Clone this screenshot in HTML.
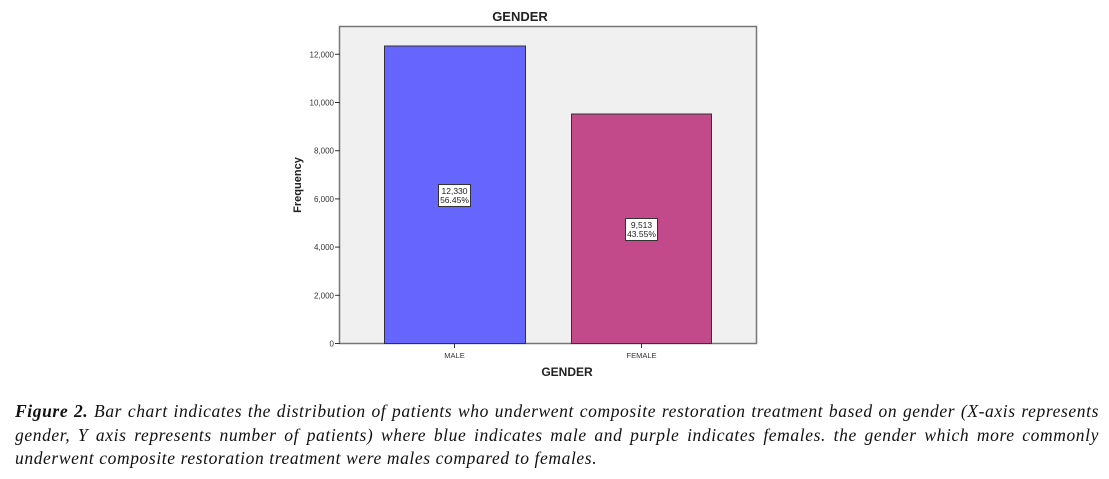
<!DOCTYPE html>
<html><head><meta charset="utf-8"><style>
html,body{margin:0;padding:0;background:#fff;width:1109px;height:479px;overflow:hidden;}
svg{position:absolute;left:0;top:0;}
.cap{position:absolute;left:15px;top:400px;width:1084px;font-family:"Liberation Serif",serif;font-style:italic;font-size:17.5px;letter-spacing:0.6px;line-height:23.5px;color:#111;}
.l{display:block;text-align:justify;text-align-last:justify;white-space:nowrap;}
.l3{display:block;white-space:nowrap;}
</style></head><body>
<svg width="1109" height="400" font-family="Liberation Sans, sans-serif">
<text x="520" y="21" font-size="13" font-weight="bold" text-anchor="middle" fill="#222">GENDER</text>
<rect x="339.5" y="26.5" width="417" height="317" fill="#f0f0f0" stroke="#777" stroke-width="1.5"/>
<rect x="384.5" y="46" width="141" height="297.5" fill="#6666ff" stroke="#333" stroke-width="1"/>
<rect x="571.5" y="114" width="140" height="229.5" fill="#c34a8a" stroke="#333" stroke-width="1"/>
<g font-size="8" fill="#333" text-anchor="end">
<line x1="335" x2="340" y1="343.5" y2="343.5" stroke="#333"/><text x="334" y="346.5">0</text>
<line x1="335" x2="340" y1="295.3" y2="295.3" stroke="#333"/><text x="334" y="298.3">2,000</text>
<line x1="335" x2="340" y1="247.1" y2="247.1" stroke="#333"/><text x="334" y="250.1">4,000</text>
<line x1="335" x2="340" y1="198.9" y2="198.9" stroke="#333"/><text x="334" y="201.9">6,000</text>
<line x1="335" x2="340" y1="150.7" y2="150.7" stroke="#333"/><text x="334" y="153.7">8,000</text>
<line x1="335" x2="340" y1="102.5" y2="102.5" stroke="#333"/><text x="334" y="105.5">10,000</text>
<line x1="335" x2="340" y1="54.3" y2="54.3" stroke="#333"/><text x="334" y="57.3">12,000</text>
</g>
<line x1="454.5" x2="454.5" y1="343" y2="348" stroke="#333"/>
<line x1="641.5" x2="641.5" y1="343" y2="348" stroke="#333"/>
<text x="454.5" y="358" font-size="7.5" fill="#333" text-anchor="middle">MALE</text>
<text x="641.5" y="358" font-size="7.5" fill="#333" text-anchor="middle">FEMALE</text>
<text x="567" y="376" font-size="12" font-weight="bold" text-anchor="middle" fill="#222">GENDER</text>
<text transform="translate(301,185) rotate(-90)" font-size="11" font-weight="bold" text-anchor="middle" fill="#222">Frequency</text>
<rect x="438.5" y="184.5" width="32" height="22" fill="#fff" stroke="#333"/>
<text x="454.5" y="194" font-size="8.5" text-anchor="middle" fill="#222">12,330</text>
<text x="454.5" y="203" font-size="8.5" text-anchor="middle" fill="#222">56.45%</text>
<rect x="625.5" y="218.5" width="32" height="22" fill="#fff" stroke="#333"/>
<text x="641.5" y="228" font-size="8.5" text-anchor="middle" fill="#222">9,513</text>
<text x="641.5" y="237" font-size="8.5" text-anchor="middle" fill="#222">43.55%</text>
</svg>
<div class="cap">
<span class="l"><b>Figure 2.</b> Bar chart indicates the distribution of patients who underwent composite restoration treatment based on gender (X-axis represents</span>
<span class="l">gender, Y axis represents number of patients) where blue indicates male and purple indicates females. the gender which more commonly</span>
<span class="l3">underwent composite restoration treatment were males compared to females.</span>
</div>
</body></html>
